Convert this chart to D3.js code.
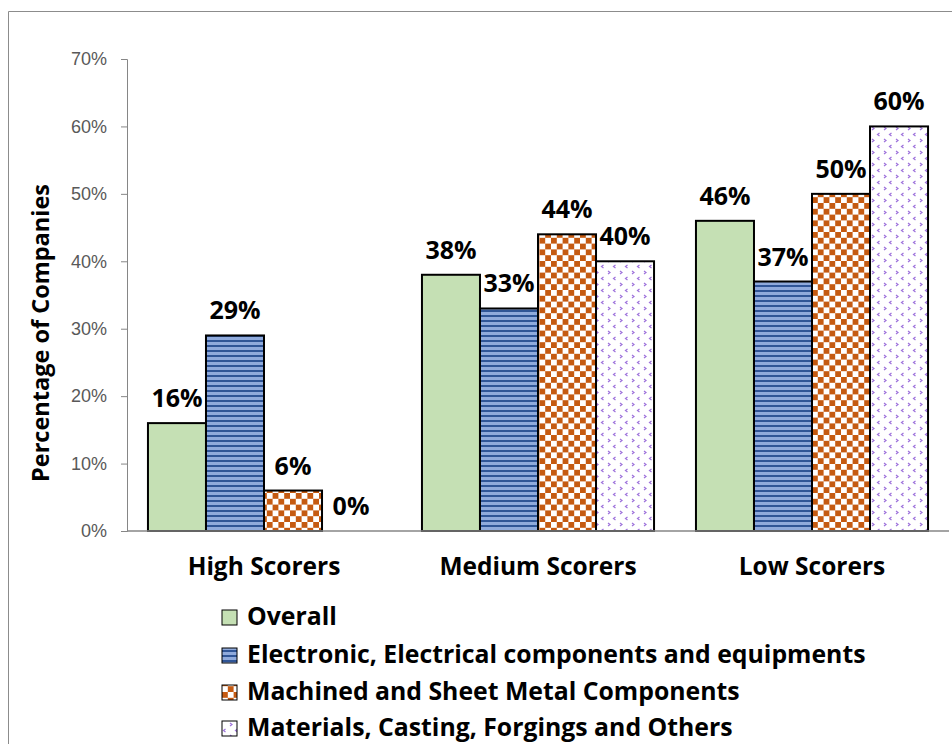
<!DOCTYPE html>
<html>
<head>
<meta charset="utf-8">
<script src="https://cdn.jsdelivr.net/npm/d3@7"></script>
<style>
  body { margin: 0; background: #fff; }
  svg { display: block; font-family: "Open Sans", sans-serif; }
</style>
</head>
<body>
<div id="chart"></div>
<script>
// Chart data
const groups = ["High Scorers", "Medium Scorers", "Low Scorers"];
const seriesNames = [
    "Overall",
    "Electronic, Electrical components and equipments",
    "Machined and Sheet Metal Components",
    "Materials, Casting, Forgings and Others"
];
const overall = [16, 38, 46];
const electronic = [29, 33, 37];
const machined = [6, 44, 50];
const materials = [0, 40, 60];
const yTicks = [0, 10, 20, 30, 40, 50, 60, 70];

const seriesValues = [overall, electronic, machined, materials];
const fills = ["#C5E0B4", "url(#stripes)", "url(#checker)", "url(#dots)"];

const width = 952, height = 744;
const margin = { left: 127, right: 3, top: 59, bottom: 213 };

const svg = d3.select('#chart').append('svg')
    .attr('width', width)
    .attr('height', height);

// patterns
const defs = svg.append('defs');

const stripes = defs.append('pattern')
    .attr('id', 'stripes')
    .attr('patternUnits', 'userSpaceOnUse')
    .attr('width', 8).attr('height', 5);
stripes.append('rect').attr('width', 8).attr('height', 5).attr('fill', '#8FAADC');
stripes.append('rect').attr('width', 8).attr('height', 2).attr('fill', '#2F5597');

const checker = defs.append('pattern')
    .attr('id', 'checker')
    .attr('patternUnits', 'userSpaceOnUse')
    .attr('width', 11.6).attr('height', 11.6);
checker.append('rect').attr('width', 11.6).attr('height', 11.6).attr('fill', '#fff');
checker.append('rect').attr('width', 5.8).attr('height', 5.8).attr('fill', '#C55A11');
checker.append('rect').attr('x', 5.8).attr('y', 5.8).attr('width', 5.8).attr('height', 5.8).attr('fill', '#C55A11');

const dots = defs.append('pattern')
    .attr('id', 'dots')
    .attr('patternUnits', 'userSpaceOnUse')
    .attr('width', 12).attr('height', 12);
dots.append('rect').attr('width', 12).attr('height', 12).attr('fill', '#fff');
dots.append('path').attr('d', 'M3.5,1 L1.5,2.5 L3.5,4').attr('fill', 'none').attr('stroke', '#9E72DC').attr('stroke-width', 1.2);
dots.append('path').attr('d', 'M8,7 L10,8.5 L8,10').attr('fill', 'none').attr('stroke', '#9E72DC').attr('stroke-width', 1.2);

// outer frame
svg.append('path')
    .attr('d', `M8.5,${height} V11.5 H${width}`)
    .attr('fill', 'none')
    .attr('stroke', '#8c8c8c')
    .attr('stroke-width', 1);

const x0 = d3.scaleBand()
    .domain(groups)
    .range([margin.left, width - margin.right])
    .paddingInner(0.153)
    .paddingOuter(0.0765);

const x1 = d3.scaleBand()
    .domain(seriesNames)
    .range([0, x0.bandwidth()]);

const y = d3.scaleLinear()
    .domain([0, 70])
    .range([height - margin.bottom, margin.top]);

// y axis
const yAxis = svg.append('g')
    .attr('transform', `translate(${margin.left},0)`)
    .call(d3.axisLeft(y).tickValues(yTicks).tickSize(6).tickPadding(14).tickFormat(d => d + '%'));
yAxis.select('.domain').attr('stroke', '#868686');
yAxis.selectAll('.tick line').attr('stroke', '#868686');
yAxis.selectAll('.tick text')
    .attr('fill', '#595959')
    .style('font-size', '18px');

// bars
const g = svg.append('g');
seriesValues.forEach((vals, si) => {
    g.selectAll('.bar' + si)
        .data(vals)
        .enter().append('rect')
        .attr('x', (d, i) => x0(groups[i]) + x1(seriesNames[si]))
        .attr('y', d => y(d))
        .attr('width', x1.bandwidth())
        .attr('height', d => y(0) - y(d))
        .attr('fill', fills[si])
        .attr('stroke', d => d > 0 ? '#000' : 'none')
        .attr('stroke-width', 2);

    g.selectAll('.label' + si)
        .data(vals)
        .enter().append('text')
        .attr('x', (d, i) => x0(groups[i]) + x1(seriesNames[si]) + x1.bandwidth() / 2)
        .attr('y', d => y(d) - 16)
        .attr('text-anchor', 'middle')
        .style('font-size', '25px')
        .style('font-weight', 'bold')
        .attr('fill', '#000')
        .text(d => d + '%');
});

// x axis
svg.append('line')
    .attr('x1', margin.left).attr('x2', width - margin.right)
    .attr('y1', y(0)).attr('y2', y(0))
    .attr('stroke', '#868686')
    .attr('stroke-width', 1.5);

svg.selectAll('.cat')
    .data(groups)
    .enter().append('text')
    .attr('x', d => x0(d) + x0.bandwidth() / 2)
    .attr('y', 575)
    .attr('text-anchor', 'middle')
    .style('font-size', '24.5px')
    .style('font-weight', 'bold')
    .text(d => d);

// y title
svg.append('text')
    .attr('transform', 'translate(49,333) rotate(-90)')
    .attr('text-anchor', 'middle')
    .style('font-size', '23.5px')
    .style('font-weight', 'bold')
    .text('Percentage of Companies');

// legend
const legendY = [617, 655, 692, 728];
const legend = svg.selectAll('.legend')
    .data(seriesNames)
    .enter().append('g')
    .attr('transform', (d, i) => `translate(222,${legendY[i]})`);
legend.append('rect')
    .attr('x', 0).attr('y', -7)
    .attr('width', 15).attr('height', 15)
    .attr('fill', (d, i) => fills[i])
    .attr('stroke', '#000')
    .attr('stroke-width', 1);
legend.append('text')
    .attr('x', 25)
    .attr('y', 8)
    .style('font-size', '24.8px')
    .style('font-weight', 'bold')
    .text(d => d);
</script>
</body>
</html>
